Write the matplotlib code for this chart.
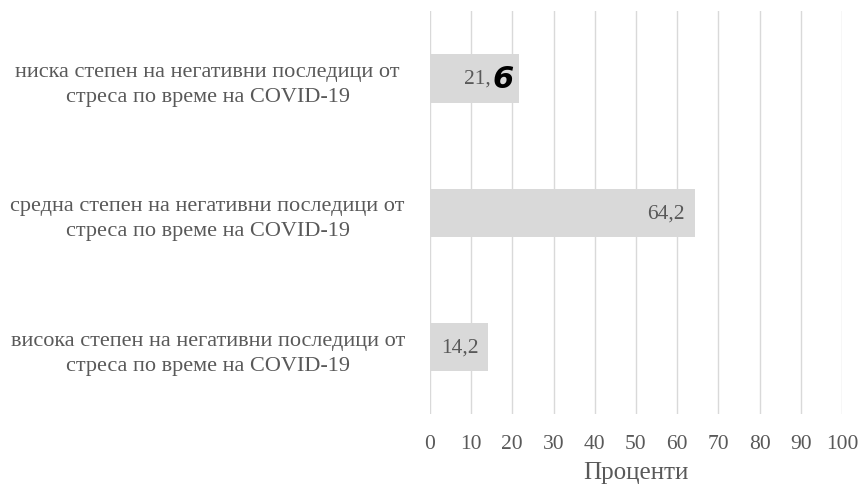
import matplotlib.pyplot as plt

# stress consequences during COVID-19, percent of respondents
categories = ["висока степен на негативни последици от\nстреса по време на COVID-19",
              "средна степен на негативни последици от\nстреса по време на COVID-19",
              "ниска степен на негативни последици от\nстреса по време на COVID-19"]
values = [14.2, 64.2, 21.6]
xticks = list(range(0, 101, 10))

plt.rcParams["font.family"] = ["Liberation Serif", "DejaVu Serif"]
txt = "#595959"

fig = plt.figure(figsize=(8.58, 4.89), dpi=100)
ax = fig.add_axes([0.501, 0.151, 0.4805, 0.824])

ypos = range(len(categories))
ax.barh(ypos, values, height=0.36, color="#d9d9d9", zorder=2)

for y, v in zip(ypos, values):
    lbl = f"{v:.1f}".replace(".", ",")
    if v == 21.6:
        # last digit written over by hand
        ax.annotate(lbl[:-1], (v, y), xytext=(-20, 0), textcoords="offset points",
                    ha="right", va="center", fontsize=15.5, color=txt, zorder=3)
        ax.annotate(lbl[-1], (v, y), xytext=(-4, 0), textcoords="offset points",
                    ha="right", va="center", fontsize=22, color="black",
                    fontweight="bold", fontstyle="italic", family="DejaVu Sans", zorder=4)
    else:
        ax.annotate(lbl, (v, y), xytext=(-7, 0), textcoords="offset points",
                    ha="right", va="center", fontsize=15.5, color=txt, zorder=3)

ax.set_xlim(0, 100)
ax.set_ylim(-0.5, 2.5)
ax.set_xticks(xticks)
ax.set_yticks(list(ypos))
ax.set_yticklabels(categories, ha="center", multialignment="center", linespacing=1.45)
ax.tick_params(axis="y", length=0, pad=160, labelsize=16, labelcolor=txt)
ax.tick_params(axis="x", length=0, pad=14, labelsize=15.5, labelcolor=txt)
ax.xaxis.grid(True, color="#d9d9d9", linewidth=1, zorder=0)
for s in ax.spines.values():
    s.set_visible(False)
ax.set_xlabel("Проценти", fontsize=18, color=txt, labelpad=6)

fig.savefig("out.png", dpi=100)
